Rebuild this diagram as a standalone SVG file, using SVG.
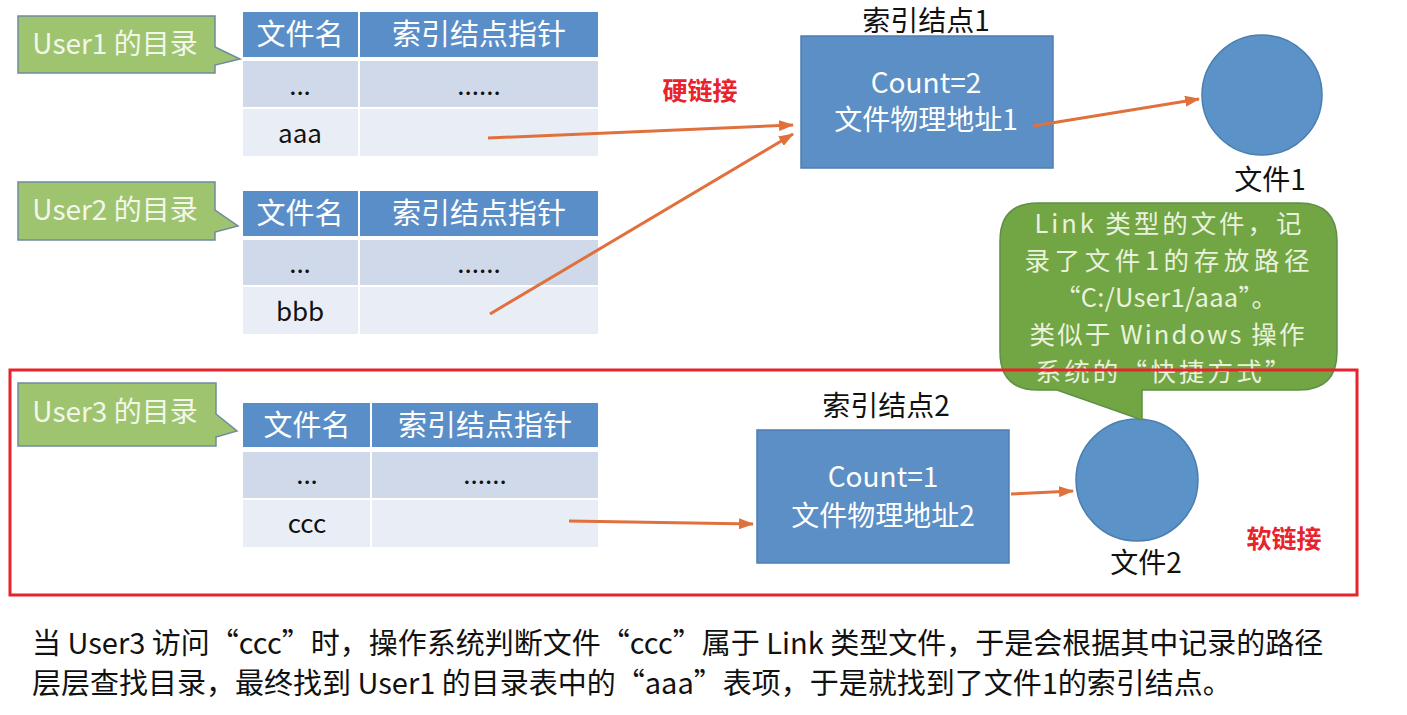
<svg xmlns="http://www.w3.org/2000/svg" width="1407" height="715" viewBox="0 0 1407 715">
<defs>
<marker id="ah" markerUnits="userSpaceOnUse" markerWidth="15" markerHeight="11" refX="14" refY="5.5" orient="auto">
<path d="M0,0 L15,5.5 L0,11 Z" fill="#e0703c"/>
</marker>
<style>
text{font-family:"Noto Sans CJK SC","Noto Sans",sans-serif;}
.hd{fill:#5a8ec8;}
.r1{fill:#d0d9ea;}
.r2{fill:#e9eef6;}
.ht{fill:#ffffff;font-size:29px;text-anchor:middle;}
.ct{fill:#111111;font-size:26px;text-anchor:middle;}
.bl{fill:#9fc46f;stroke:#6f8aa0;stroke-width:1.5;}
.blt{fill:#f2f7ea;font-size:28px;text-anchor:middle;}
.box{fill:#5b8fc5;stroke:#4d7fb2;stroke-width:1.5;}
.bt{fill:#ffffff;font-size:28px;text-anchor:middle;}
.lab{fill:#111111;font-size:28px;text-anchor:middle;}
.cir{fill:#5b93c9;stroke:#4a7db0;stroke-width:1.5;}
.red{fill:#e8232b;font-size:25px;font-weight:bold;text-anchor:middle;}
.conn{stroke:#e0703c;stroke-width:3;fill:none;marker-end:url(#ah);}
.sp{fill:#72a544;stroke:#5f8f47;stroke-width:1.5;}
.spt{fill:#eaf2de;font-size:25.5px;text-anchor:middle;}
.note{fill:#111111;font-size:29px;}
</style>
</defs>
<rect width="1407" height="715" fill="#ffffff"/>

<g id="user1-label">
<path class="bl" d="M18,16 H215 V47 L240,59 L215,65 V73 H18 Z"/>
<text class="blt" x="115" y="54">User1 的目录</text>
</g>
<g id="user1-table">
<rect class="hd" x="243" y="12" width="115" height="45"/>
<rect class="hd" x="360" y="12" width="238" height="45"/>
<rect class="r1" x="243" y="61" width="115" height="46"/>
<rect class="r1" x="360" y="61" width="238" height="46"/>
<rect class="r2" x="243" y="109" width="115" height="47"/>
<rect class="r2" x="360" y="109" width="238" height="47"/>
<text class="ht" x="300" y="45">文件名</text>
<text class="ht" x="479" y="45">索引结点指针</text>
<text class="ct" x="300" y="95">...</text>
<text class="ct" x="479" y="95">......</text>
<text class="ct" x="300" y="143">aaa</text>
</g>

<g id="user2-label">
<path class="bl" d="M18,182 H215 V210 L238,226 L215,232 V240 H18 Z"/>
<text class="blt" x="115" y="220">User2 的目录</text>
</g>
<g id="user2-table">
<rect class="hd" x="243" y="191" width="115" height="45"/>
<rect class="hd" x="360" y="191" width="238" height="45"/>
<rect class="r1" x="243" y="240" width="115" height="45"/>
<rect class="r1" x="360" y="240" width="238" height="45"/>
<rect class="r2" x="243" y="287" width="115" height="47"/>
<rect class="r2" x="360" y="287" width="238" height="47"/>
<text class="ht" x="300" y="224">文件名</text>
<text class="ht" x="479" y="224">索引结点指针</text>
<text class="ct" x="300" y="273">...</text>
<text class="ct" x="479" y="273">......</text>
<text class="ct" x="300" y="321">bbb</text>
</g>

<g id="user3-label">
<path class="bl" d="M18,383 H216 V414 L237,431 L216,437 V446 H18 Z"/>
<text class="blt" x="115" y="422">User3 的目录</text>
</g>
<g id="user3-table">
<rect class="hd" x="243" y="403" width="127" height="44"/>
<rect class="hd" x="372" y="403" width="226" height="44"/>
<rect class="r1" x="243" y="452" width="127" height="46"/>
<rect class="r1" x="372" y="452" width="226" height="46"/>
<rect class="r2" x="243" y="500" width="127" height="47"/>
<rect class="r2" x="372" y="500" width="226" height="47"/>
<text class="ht" x="307" y="436">文件名</text>
<text class="ht" x="485" y="436">索引结点指针</text>
<text class="ct" x="307" y="484">...</text>
<text class="ct" x="485" y="484">......</text>
<text class="ct" x="307" y="533">ccc</text>
</g>

<g id="inode1">
<text class="lab" x="926" y="31">索引结点1</text>
<rect class="box" x="801" y="36" width="252" height="132"/>
<text class="bt" x="926" y="93">Count=2</text>
<text class="bt" x="926" y="130">文件物理地址1</text>
</g>

<g id="file1">
<circle class="cir" cx="1262" cy="95" r="60"/>
<text class="lab" x="1270" y="190">文件1</text>
</g>

<g id="inode2">
<text class="lab" x="886" y="416">索引结点2</text>
<rect class="box" x="757" y="430" width="252" height="133"/>
<text class="bt" x="883" y="487">Count=1</text>
<text class="bt" x="883" y="526">文件物理地址2</text>
</g>

<g id="file2">
<circle class="cir" cx="1137" cy="480" r="61"/>
<text class="lab" x="1146" y="573">文件2</text>
</g>

<g id="link-note">
<path class="sp" d="M1038,203 H1299 Q1337,203 1337,241 V352 Q1337,390 1299,390 H1142 V420 L1057,390 H1038 Q1000,390 1000,352 V241 Q1000,203 1038,203 Z"/>
<text class="spt" x="1168" y="233" textLength="267">Link 类型的文件，记</text>
<text class="spt" x="1167" y="270" textLength="285">录了文件1的存放路径</text>
<text class="spt" x="1166" y="307" textLength="222">“C:/User1/aaa”。</text>
<text class="spt" x="1167" y="344" textLength="275">类似于 Windows 操作</text>
<text class="spt" x="1163" y="381" textLength="255">系统的“快捷方式”</text>
</g>

<g id="labels">
<text class="red" x="700" y="100">硬链接</text>
<text class="red" x="1284" y="548">软链接</text>
</g>

<g id="connectors">
<line class="conn" x1="488" y1="138" x2="793" y2="125"/>
<line class="conn" x1="490" y1="314" x2="793" y2="134"/>
<line class="conn" x1="1033" y1="126" x2="1199" y2="99"/>
<line class="conn" x1="569" y1="521" x2="753" y2="524"/>
<line class="conn" x1="1011" y1="494" x2="1073" y2="491"/>
</g>

<rect id="soft-link-frame" x="10" y="370" width="1347" height="225" fill="none" stroke="#e8232b" stroke-width="3"/>

<g id="note">
<text class="note" x="32" y="654">当 User3 访问“ccc”时，操作系统判断文件“ccc”属于 Link 类型文件，于是会根据其中记录的路径</text>
<text class="note" x="32" y="694">层层查找目录，最终找到 User1 的目录表中的“aaa”表项，于是就找到了文件1的索引结点。</text>
</g>
</svg>
